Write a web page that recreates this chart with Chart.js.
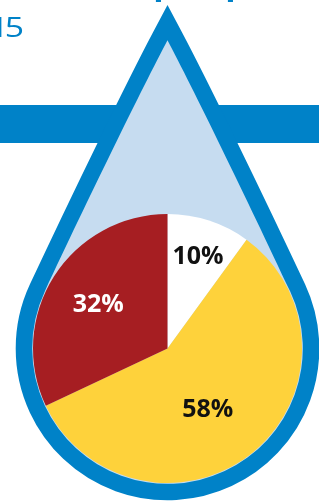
<!DOCTYPE html>
<html>
<head>
<meta charset="utf-8">
<script src="https://cdn.jsdelivr.net/npm/chart.js@4/dist/chart.umd.min.js"></script>
<style>
  html, body { margin: 0; padding: 0; background: #fff; }
  canvas { display: block; }
</style>
</head>
<body>
<canvas id="grafico" width="319" height="502"></canvas>
<script>
// datos del gráfico
const categorias = ["Parte A", "Parte B", "Parte C"];
const valores = [10, 58, 32];
const etiquetas = ["10%", "58%", "32%"];
const coloresSector = ["#ffffff", "#fed23b", "#a61e22"];
const coloresTexto = ["#111111", "#111111", "#ffffff"];

const AZUL = "#0082c8";
const AZUL_CLARO = "#c6dcf0";

// fondo: barra horizontal + gota alrededor del pastel
const gotaPlugin = {
    id: "gota",
    beforeDatasetsDraw(chart) {
        const arco = chart.getDatasetMeta(0).data[0];
        if (!arco) return;
        const { x, y, outerRadius } = arco.getProps(["x", "y", "outerRadius"], true);
        const ctx = chart.ctx;
        ctx.save();

        // barra horizontal detrás de la gota
        ctx.fillStyle = AZUL;
        ctx.fillRect(0, 105, chart.width, 38);

        const R = outerRadius + 0.8;
        const puntaY = y - R * 2.279;
        const beta = 25 * Math.PI / 180;
        const k1 = 45, k2 = 100;

        function trazarGota() {
            const px = x - R * Math.cos(beta);
            const py = y - R * Math.sin(beta);
            const qx = x + R * Math.cos(beta);
            ctx.beginPath();
            ctx.moveTo(x, puntaY);
            // lado derecho
            ctx.bezierCurveTo(x + 0.53 * k1, puntaY + k1,
                              qx - Math.sin(beta) * k2, py - Math.cos(beta) * k2,
                              qx, py);
            ctx.arc(x, y, R, -beta, Math.PI + beta, false);
            // lado izquierdo
            ctx.bezierCurveTo(px + Math.sin(beta) * k2, py - Math.cos(beta) * k2,
                              x - 0.53 * k1, puntaY + k1,
                              x, puntaY);
            ctx.closePath();
        }

        trazarGota();
        ctx.lineJoin = "miter";
        ctx.miterLimit = 10;
        ctx.lineWidth = 33;
        ctx.strokeStyle = AZUL;
        ctx.stroke();
        ctx.fillStyle = AZUL_CLARO;
        ctx.fill();

        // textos de arriba, recortados por el borde
        ctx.fillStyle = AZUL;
        ctx.textBaseline = "alphabetic";
        ctx.textAlign = "left";
        ctx.save();
        ctx.translate(0, 36.7);
        const esc = 1.25;
        ctx.scale(esc, 1);
        ctx.font = "27px 'Open Sans'";
        const m1 = ctx.measureText("1");
        const m5 = ctx.measureText("5");
        ctx.fillText("1", 2 / esc - m1.actualBoundingBoxRight, 0);
        ctx.fillText("5", 6 / esc + m5.actualBoundingBoxLeft, 0);
        ctx.restore();
        ctx.font = "bold 34px 'Open Sans'";
        ctx.fillText("p", 153.3, -6);
        ctx.fillText("p", 225.3, -6);
        ctx.restore();
    }
};

// etiquetas de porcentaje dentro de cada sector
const etiquetasPlugin = {
    id: "etiquetas",
    afterDatasetsDraw(chart, args, opts) {
        const ctx = chart.ctx;
        const meta = chart.getDatasetMeta(0);
        ctx.save();
        ctx.font = "bold 25px 'Open Sans'";
        ctx.textAlign = "center";
        ctx.textBaseline = "alphabetic";
        meta.data.forEach((arco, i) => {
            const p = arco.getProps(["x", "y", "startAngle", "endAngle", "outerRadius"], true);
            const medio = (p.startAngle + p.endAngle) / 2 + opts.giro[i] * Math.PI / 180;
            const r = p.outerRadius * opts.radio[i];
            const lx = p.x + r * Math.cos(medio);
            const ly = p.y + r * Math.sin(medio);
            ctx.fillStyle = coloresTexto[i];
            ctx.fillText(etiquetas[i], lx, ly + 9);
        });
        ctx.restore();
    }
};

const ctx = document.getElementById("grafico").getContext("2d");
new Chart(ctx, {
    type: "pie",
    data: {
        labels: categorias,
        datasets: [{
            data: valores,
            backgroundColor: coloresSector,
            borderWidth: 0,
            hoverOffset: 0,
            offset: 0
        }]
    },
    options: {
        responsive: false,
        animation: false,
        devicePixelRatio: 1,
        layout: { padding: { left: 33, right: 17, top: 214, bottom: 19 } },
        plugins: {
            legend: { display: false },
            tooltip: { enabled: false },
            etiquetas: { radio: [0.733, 0.537, 0.618], giro: [0, 5.7, 1.2] }
        }
    },
    plugins: [gotaPlugin, etiquetasPlugin]
});
</script>
</body>
</html>
